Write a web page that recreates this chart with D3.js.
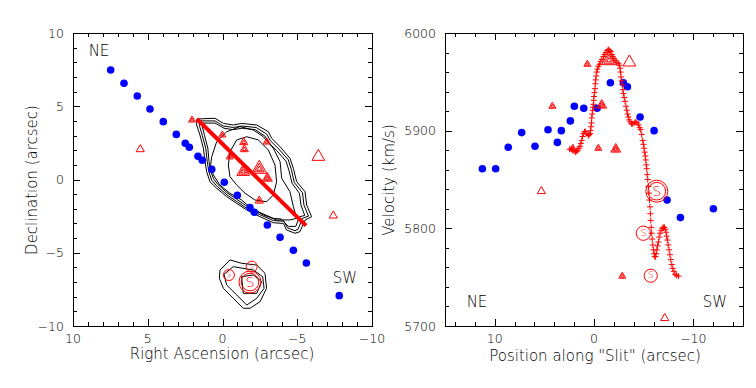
<!DOCTYPE html>
<html>
<head>
<meta charset="utf-8">
<script src="https://cdn.jsdelivr.net/npm/d3@7"></script>
<style>
  body { margin: 0; background: #fff; }
  text { font-family: "DejaVu Sans", sans-serif; font-weight: 200; fill: #000; }
</style>
</head>
<body>
<svg id="chart" width="756" height="388"></svg>
<script>
// ---- 左图：天球坐标 (RA, Dec) ----
const raTicks = [10, 5, 0, -5, -10];
const decTicks = [10, 5, 0, -5, -10];

// 蓝点（沿狭缝）
const blueRA  = [7.48, 6.59, 5.70, 4.85, 3.96, 3.09, 2.49, 2.22, 1.64, 1.35, 0.72, -0.12, -0.99, -1.84, -2.13, -3.00, -3.85, -4.74, -5.61, -7.81];
const blueDec = [7.47, 6.57, 5.70, 4.81, 3.95, 3.08, 2.47, 2.20, 1.58, 1.31, 0.70, -0.19, -1.08, -1.92, -2.24, -3.11, -3.95, -4.83, -5.70, -7.93];

// 三角形：RA, Dec, 大小等级, 是否空心
const triRA   = [2.04, 0.01, -1.42, -1.46, -0.48, -2.96, -1.39, -2.46, -3.00, -2.46, 5.50, -6.41, -7.41];
const triDec  = [4.06, 3.04, 2.54, 2.06, 1.54, 2.56, 0.53, 0.72, 0.08, -1.45, 2.06, 1.56, -2.47];
const triSize = [1, 1, 1.2, 1.2, 1, 1, 2, 2.4, 1.5, 1.2, 1.2, 2, 1.2];
const triOpen = [0, 0, 0, 0, 0, 0, 0, 0, 0, 0, 1, 1, 1];

// 狭缝 (红线端点)
const slitRA  = [1.71, -5.59];
const slitDec = [4.13, -3.15];

// "S" 圆圈
const sRA   = [-0.43, -1.95, -1.84];
const sDec  = [-6.52, -5.95, -7.00];
const sSize = [1, 1, 2];

// 等值线
const contour1 = [[1.71,4.13],[0.50,4.18],[-0.06,3.83],[-0.72,3.72],[-1.28,3.83],[-2.29,3.72],[-3.07,3.26],[-3.29,2.81],[-3.85,2.24],[-4.52,1.44],[-4.74,0.76],[-4.96,-0.15],[-5.52,-0.83],[-5.63,-1.74],[-5.96,-2.54],[-5.52,-2.77],[-5.18,-3.56],[-4.85,-3.67],[-4.29,-3.45],[-4.07,-3.0],[-3.40,-2.95],[-2.51,-2.54],[-1.62,-2.08],[-0.95,-1.63],[-0.28,-1.17],[0.39,-0.60],[0.84,-0.15],[1.06,0.53],[1.17,1.22],[1.28,2.13],[1.51,3.04],[1.73,3.72]];
const contour2 = [[1.55,4.0],[0.5,4.0],[-0.05,3.65],[-0.72,3.55],[-1.28,3.65],[-2.25,3.55],[-2.95,3.1],[-3.2,2.65],[-3.75,2.1],[-4.4,1.35],[-4.6,0.7],[-4.8,-0.2],[-5.35,-0.9],[-5.45,-1.75],[-5.75,-2.5],[-5.35,-2.65],[-5.05,-3.4],[-4.85,-3.5],[-4.35,-3.3],[-4.1,-2.85],[-3.4,-2.8],[-2.5,-2.4],[-1.6,-1.95],[-0.95,-1.5],[-0.3,-1.05],[0.35,-0.48],[0.72,-0.05],[0.92,0.55],[1.02,1.22],[1.12,2.13],[1.35,3.0],[1.55,3.7]];
const contour3 = [[1.35,3.85],[0.5,3.85],[-0.1,3.5],[-0.72,3.4],[-1.3,3.5],[-2.2,3.4],[-2.85,2.95],[-3.1,2.5],[-3.65,1.95],[-4.25,1.25],[-4.45,0.6],[-4.65,-0.25],[-5.15,-0.95],[-5.25,-1.75],[-5.5,-2.45],[-5.15,-2.55],[-4.9,-3.2],[-4.4,-3.2],[-3.95,-2.7],[-3.4,-2.65],[-2.5,-2.25],[-1.6,-1.8],[-0.95,-1.35],[-0.3,-0.9],[0.3,-0.35],[0.6,0.05],[0.8,0.6],[0.9,1.22],[0.98,2.13],[1.2,3.0],[1.35,3.6]];
const contour4 = [[0.72,1.56],[0.39,2.58],[-0.28,3.26],[-1.17,3.61],[-2.06,3.38],[-2.73,2.92],[-3.40,2.13],[-3.85,1.22],[-3.96,0.08],[-4.51,-0.83],[-4.74,-1.85],[-4.96,-2.65],[-4.51,-2.76],[-3.62,-2.76],[-2.73,-2.42],[-1.95,-1.97],[-1.28,-1.40],[-0.50,-0.94],[0.17,-0.38],[0.61,0.31],[0.79,0.99]];
const contour5 = [[-0.39,0.99],[-0.50,1.90],[-0.95,2.70],[-1.62,2.92],[-2.40,2.70],[-3.07,2.01],[-3.51,0.99],[-3.62,-0.15],[-3.40,-1.06],[-2.95,-1.52],[-2.17,-1.40],[-1.51,-0.94],[-0.95,-0.38],[-0.50,0.19]];
const blob1 = [[0.17,-6.18],[-0.50,-5.49],[-1.28,-5.72],[-2.29,-5.84],[-2.84,-6.40],[-2.95,-7.43],[-2.51,-8.34],[-1.84,-8.79],[-1.39,-8.79],[-0.72,-8.11],[-0.06,-7.43],[0.21,-6.74]];
const blob2 = [[-0.10,-6.47],[-0.72,-5.95],[-2.06,-6.18],[-2.69,-6.63],[-2.78,-7.43],[-2.29,-8.11],[-1.62,-8.57],[-0.95,-7.88],[-0.28,-7.20]];
const blob3 = [[-1.28,-6.63],[-2.06,-6.52],[-2.62,-6.97],[-2.29,-7.77],[-1.39,-7.77]];

// ---- 右图：速度-位置 ----
const posTicks = [10, 0, -10];
const velTicks = [5700, 5800, 5900, 6000];

const bluePos = [11.24, 9.90, 8.63, 7.28, 5.94, 4.63, 3.69, 3.29, 2.38, 1.98, 1.03, -0.31, -1.65, -2.96, -3.36, -4.64, -6.05, -7.36, -8.70, -12.02];
const blueVel = [5861, 5861, 5883, 5898, 5884, 5901, 5888, 5900, 5910, 5925, 5923, 5923, 5949, 5949, 5945, 5914, 5900, 5829, 5811, 5820];

const triPos  = [0.67, -1.52, -3.56, 4.19, -0.78, 2.14, -0.44, -2.19, 5.30, -2.85, -7.12];
const triVel  = [5968, 5972, 5970, 5925, 5926, 5882, 5882, 5881, 5838, 5751, 5708];
const triSizeR = [1, 2.4, 2, 1, 1.5, 1, 1, 1.5, 1.2, 1, 1.2];
const triOpenR = [0, 0, 1, 0, 0, 0, 0, 0, 1, 0, 1];

const sPos  = [-6.32, -4.97, -5.71];
const sVel  = [5838, 5795, 5751.5];
const sSizeR = [2, 1.3, 1.2];

// 红色 "+" 曲线（模型速度）
const curve = [[2.45,5881],[2.3,5881],[2.15,5880],[2.0,5879],[1.85,5878],[1.74,5879],[1.64,5880],[1.52,5882],[1.41,5884],[1.32,5887],[1.24,5890],[1.15,5894],[1.07,5897],[0.95,5899],[0.83,5899],[0.7,5897],[0.57,5895],[0.48,5896],[0.4,5897],[0.35,5900],[0.3,5904],[0.26,5908],[0.23,5913],[0.18,5917],[0.13,5921],[0.09,5924],[0.06,5927],[0.03,5931],[0.0,5935],[-0.05,5939],[-0.1,5943],[-0.13,5948],[-0.17,5952],[-0.22,5956],[-0.28,5960],[-0.35,5963],[-0.44,5966],[-0.56,5968],[-0.68,5971],[-0.8,5973],[-0.95,5976],[-1.08,5978],[-1.21,5980],[-1.33,5982],[-1.45,5983],[-1.57,5982],[-1.69,5981],[-1.79,5978],[-1.89,5976],[-2.0,5974],[-2.12,5972],[-2.28,5970],[-2.45,5969],[-2.55,5967],[-2.62,5964],[-2.67,5960],[-2.72,5955],[-2.78,5951],[-2.85,5947],[-2.9,5942],[-2.96,5938],[-3.04,5934],[-3.13,5930],[-3.22,5925],[-3.3,5921],[-3.38,5917],[-3.46,5914],[-3.55,5911],[-3.63,5909],[-3.77,5907],[-3.9,5907],[-4.05,5908],[-4.2,5909],[-4.33,5908],[-4.47,5906],[-4.6,5903],[-4.7,5901],[-4.8,5896],[-4.9,5890],[-4.97,5886],[-5.04,5882],[-5.1,5878],[-5.17,5874],[-5.21,5870],[-5.26,5865],[-5.31,5861],[-5.36,5855],[-5.41,5850],[-5.47,5843],[-5.54,5836],[-5.59,5829],[-5.64,5822],[-5.68,5815],[-5.71,5808],[-5.76,5801],[-5.81,5795],[-5.86,5789],[-5.92,5783],[-5.98,5778],[-6.05,5774],[-6.12,5771],[-6.18,5771],[-6.25,5774],[-6.32,5778],[-6.4,5782],[-6.48,5786],[-6.56,5791],[-6.65,5795],[-6.76,5798],[-6.88,5800],[-6.98,5801],[-7.09,5801],[-7.18,5799],[-7.26,5796],[-7.32,5792],[-7.39,5788],[-7.47,5783],[-7.56,5778],[-7.64,5773],[-7.73,5768],[-7.83,5763],[-7.93,5759],[-8.04,5756],[-8.16,5753],[-8.3,5752],[-8.5,5751]];

const RED = "#ff0000";
const BLUE = "#0000ff";

const svg = d3.select("#chart");
svg.append("rect").attr("width", 756).attr("height", 388).attr("fill", "#fff");

// 比例尺
const xL = d3.scaleLinear().domain([10, -10]).range([73, 372]);
const yL = d3.scaleLinear().domain([-10, 10]).range([326, 33]);
const xR = d3.scaleLinear().domain([15, -15]).range([445, 743]);
const yR = d3.scaleLinear().domain([5700, 6000]).range([326, 33]);

// 三角形大小
const triPx = d3.scaleLinear().domain([1, 2.4]).range([7, 15]);
const circPx = d3.scaleLinear().domain([1, 2]).range([5.5, 11]);

// 画坐标框和刻度（四边，向内）
function drawFrame(x, y, xMajor, xMinor, yMajor, yMinor) {
    const g = svg.append("g");
    const [xa, xb] = x.range();
    const [yb, ya] = y.range();
    g.append("rect")
        .attr("x", xa + 0.5).attr("y", ya + 0.5)
        .attr("width", xb - xa).attr("height", yb - ya)
        .attr("fill", "none").attr("stroke", "#000").attr("stroke-width", 1);

    const tick = (vals, len, isX) => {
        vals.forEach(v => {
            if (isX) {
                const px = Math.round(x(v)) + 0.5;
                g.append("line").attr("x1", px).attr("x2", px).attr("y1", yb).attr("y2", yb - len).attr("stroke", "#000");
                g.append("line").attr("x1", px).attr("x2", px).attr("y1", ya).attr("y2", ya + len).attr("stroke", "#000");
            } else {
                const py = Math.round(y(v)) + 0.5;
                g.append("line").attr("x1", xa).attr("x2", xa + len).attr("y1", py).attr("y2", py).attr("stroke", "#000");
                g.append("line").attr("x1", xb).attr("x2", xb - len).attr("y1", py).attr("y2", py).attr("stroke", "#000");
            }
        });
    };
    tick(x.ticks(xMinor), 4, true);
    tick(xMajor, 7, true);
    tick(y.ticks(yMinor), 4, false);
    tick(yMajor, 7, false);

    const fmt = d3.format("d");
    g.selectAll(".xl").data(xMajor).enter().append("text")
        .attr("x", d => x(d)).attr("y", yb + 17)
        .attr("text-anchor", "middle").attr("font-size", 12.5)
        .text(d => fmt(d));
    g.selectAll(".yl").data(yMajor).enter().append("text")
        .attr("x", xa - 9).attr("y", d => y(d) + 4.5)
        .attr("text-anchor", "end").attr("font-size", 12.5)
        .text(d => fmt(d));
    return g;
}

function triPath(cx, cy, s) {
    const h = s * 0.87;
    return `M${cx - s / 2},${cy + h / 3}L${cx + s / 2},${cy + h / 3}L${cx},${cy - 2 * h / 3}Z`;
}

function drawTriangles(g, xs, ys, sizes, opens, x, y) {
    xs.forEach((v, i) => {
        const cx = x(v), cy = y(ys[i]);
        const s = triPx(sizes[i]);
        const layers = opens[i] ? [1] : (s > 9 ? [1, 0.66, 0.33] : [1, 0.5]);
        layers.forEach(f => {
            g.append("path").attr("d", triPath(cx, cy, s * f))
                .attr("fill", "none").attr("stroke", RED).attr("stroke-width", 1);
        });
    });
}

function drawS(g, xs, ys, sizes, x, y) {
    xs.forEach((v, i) => {
        const cx = x(v), cy = y(ys[i]);
        const r = circPx(sizes[i]);
        g.append("circle").attr("cx", cx).attr("cy", cy).attr("r", r)
            .attr("fill", "none").attr("stroke", RED).attr("stroke-width", 1);
        if (sizes[i] > 1.5) {
            g.append("circle").attr("cx", cx).attr("cy", cy).attr("r", r * 0.8)
                .attr("fill", "none").attr("stroke", RED).attr("stroke-width", 1);
        }
        g.append("text").attr("x", cx).attr("y", cy + r * 0.42)
            .attr("text-anchor", "middle").attr("font-size", r * 1.3)
            .style("fill", RED).text("S");
    });
}

// ---- 左图 ----
const gL = svg.append("g");
const line = d3.line().x(d => xL(d[0])).y(d => yL(d[1])).curve(d3.curveLinearClosed);
[contour1, contour2, contour3, contour4, contour5, blob1, blob2, blob3].forEach(c => {
    gL.append("path").attr("d", line(c)).attr("fill", "none").attr("stroke", "#000").attr("stroke-width", 1);
});

gL.selectAll(".bp").data(blueRA).enter().append("circle")
    .attr("cx", d => xL(d)).attr("cy", (d, i) => yL(blueDec[i]))
    .attr("r", 3.8).attr("fill", BLUE);

gL.append("line")
    .attr("x1", xL(slitRA[0])).attr("y1", yL(slitDec[0]))
    .attr("x2", xL(slitRA[1])).attr("y2", yL(slitDec[1]))
    .attr("stroke", RED).attr("stroke-width", 4);

drawTriangles(gL, triRA, triDec, triSize, triOpen, xL, yL);
drawS(gL, sRA, sDec, sSize, xL, yL);

drawFrame(xL, yL, raTicks, 20, decTicks, 20);

gL.append("text").attr("x", 99).attr("y", 56).attr("text-anchor", "middle").attr("font-size", 15).text("NE");
gL.append("text").attr("x", 345).attr("y", 283).attr("text-anchor", "middle").attr("font-size", 15).text("SW");
gL.append("text").attr("x", 222).attr("y", 359).attr("text-anchor", "middle").attr("font-size", 15).text("Right Ascension (arcsec)");
gL.append("text").attr("transform", "translate(37,180) rotate(-90)").attr("text-anchor", "middle").attr("font-size", 15).text("Declination (arcsec)");

// ---- 右图 ----
const gR = svg.append("g");
gR.selectAll(".bp").data(bluePos).enter().append("circle")
    .attr("cx", d => xR(d)).attr("cy", (d, i) => yR(blueVel[i]))
    .attr("r", 3.8).attr("fill", BLUE);

curve.forEach(d => {
    const cx = xR(d[0]), cy = yR(d[1]);
    gR.append("path").attr("d", `M${cx - 3},${cy}H${cx + 3}M${cx},${cy - 3}V${cy + 3}`)
        .attr("stroke", RED).attr("stroke-width", 1).attr("fill", "none");
});

drawTriangles(gR, triPos, triVel, triSizeR, triOpenR, xR, yR);
drawS(gR, sPos, sVel, sSizeR, xR, yR);

drawFrame(xR, yR, posTicks, 15, velTicks, 15);

gR.append("text").attr("x", 477).attr("y", 307).attr("text-anchor", "middle").attr("font-size", 15).text("NE");
gR.append("text").attr("x", 715).attr("y", 307).attr("text-anchor", "middle").attr("font-size", 15).text("SW");
gR.append("text").attr("x", 595).attr("y", 361).attr("text-anchor", "middle").attr("font-size", 15).text("Position along \"Slit\" (arcsec)");
gR.append("text").attr("transform", "translate(394,180) rotate(-90)").attr("text-anchor", "middle").attr("font-size", 15).text("Velocity (km/s)");
</script>
</body>
</html>
